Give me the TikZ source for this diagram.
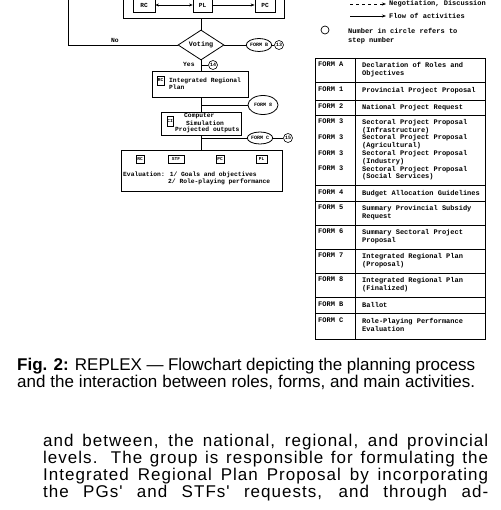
\documentclass[tikz,border=0pt]{standalone}
\usepackage{fontspec}
\newfontfamily\dm{Liberation Mono}
\newfontfamily\helv{Liberation Sans}[Ligatures=TeX]
\newfontfamily\helvwide{Liberation Sans}[LetterSpace=6]
\usetikzlibrary{shapes.geometric,arrows.meta}
\begin{document}
\begin{tikzpicture}[x=1pt,y=-1pt,
  every node/.style={inner sep=0pt},
  ln/.style={line width=0.8pt},
  flow/.style={ln,-{Stealth[length=4pt,width=3pt]}},
  box/.style={draw,ln,rectangle},
  tag/.style={draw,line width=0.6pt,font=\dm\bfseries\fontsize{4.5}{5}\selectfont,minimum height=8pt},
  bigtag/.style={draw,ln,font=\dm\bfseries\fontsize{6.2}{6.2}\selectfont,minimum height=14pt},
  dtxt/.style={font=\dm\bfseries\fontsize{6.3}{7}\selectfont,anchor=west,align=left},
  legtxt/.style={font=\dm\bfseries\fontsize{7}{9.5}\selectfont,anchor=west,align=left},
  oval/.style={draw,ln,ellipse,font=\dm\bfseries\fontsize{5}{5}\selectfont},
  num/.style={draw,line width=0.6pt,circle,minimum size=9pt,font=\dm\bfseries\fontsize{5}{5}\selectfont},
  ttxt/.style={font=\dm\bfseries\fontsize{7}{7.8}\selectfont,anchor=north west,align=left},
  rule/.style={line width=0.7pt},
  captxt/.style={font=\helv\fontsize{17}{17}\selectfont,anchor=base west},
  bodytxt/.style={font=\helvwide\fontsize{17}{17}\selectfont,anchor=base west}]
\clip (0,0) rectangle (500,510);
\fill[white] (0,0) rectangle (500,510);

% ---- flowchart ----
\coordinate (spine) at (201,0);
\node[box,minimum width=161pt,minimum height=30pt] (topbox) at (203.5,3) {};
\node[bigtag,minimum width=22pt] (rc) at (144,5) {RC};
\node[bigtag,minimum width=19pt] (pl) at (202.5,5) {PL};
\node[bigtag,minimum width=20pt] (pc) at (265,5) {PC};
\draw[ln,{Stealth[length=3.5pt,width=3pt]}-{Stealth[length=3.5pt,width=3pt]}] (rc) -- (pl);
\draw[flow] (pl) -- (pc);

\node[draw,ln,diamond,aspect=1.5,minimum width=46pt,minimum height=30pt,
      font=\dm\bfseries\fontsize{6.8}{7}\selectfont] (vote) at (201,45) {Voting};
\draw[ln] (spine |- topbox.south) -- (vote.north);
\coordinate (nocorner) at (68,45);
\coordinate (noend) at (68,-10);
\draw[ln] (vote.west) -- (nocorner) -- (noend);
\node[dtxt] (nolbl) at (111,40) {No};

\node[oval,minimum width=23pt,minimum height=13pt] (fb) at (259,45) {FORM B};
\node[num] (n13) at (279,45) {13};
\draw[ln] (vote.east) -- (fb.west);
\draw[ln] (fb) -- (n13);

\node[dtxt] (yes) at (183,64) {Yes};
\node[num] (n14) at (213,65) {14};
\node[box,minimum width=96pt,minimum height=26pt] (irp) at (200,84) {};
\draw[ln] (vote.south) -- (spine |- irp.north);
\draw[ln] (spine |- n14.west) -- (n14.west);
\node[tag,minimum width=7pt,minimum height=9pt] (irprc) at (160.5,80.5) {RC};
\node[dtxt] (irptxt) at (169,84) {Integrated Regional\\Plan};

\node[oval,minimum width=30pt,minimum height=19pt] (f8) at (263,105) {FORM 8};
\node[box,minimum width=80pt,minimum height=23pt] (cs) at (201,123.5) {};
\draw[ln] (spine |- irp.south) -- (spine |- cs.north);
\draw[ln] (spine |- f8.west) -- (f8.west);
\node[tag,minimum width=6pt,minimum height=10pt] (ci) at (170,121) {CI};
\node[dtxt] (cs1) at (184,116.5) {Computer};
\node[dtxt] (cs2) at (186,123) {Simulation};
\node[dtxt] (cs3) at (175,130) {Projected outputs};

\node[box,minimum width=161pt,minimum height=41pt] (ev) at (201.5,170.5) {};
\draw[ln] (spine |- cs.south) -- (spine |- ev.north);
\node[oval,minimum width=25pt,minimum height=12pt] (fc) at (260,138) {FORM C};
\node[num] (n15) at (288,138) {15};
\draw[ln] (spine |- fc.west) -- (fc.west);
\draw[ln] (fc) -- (n15);
\node[tag,minimum width=8pt] (evrc) at (140,159) {RC};
\node[tag,minimum width=16pt] (evstf) at (176,159) {STF};
\node[tag,minimum width=8pt] (evpc) at (220,159) {PC};
\node[tag,minimum width=11pt] (evpl) at (261.5,159) {PL};
\node[dtxt] (ev1) at (123,175) {Evaluation: 1/ Goals and objectives};
\node[dtxt] (ev2) at (168,182) {2/ Role-playing performance};

% ---- legend ----
\coordinate (d1) at (350,4);
\coordinate (d2) at (386,4);
\draw[flow,dashed] (d1) -- (d2);
\node[legtxt] (neg) at (389,4) {Negotiation, Discussion};
\coordinate (f1) at (350,16);
\coordinate (f2) at (386,16);
\draw[flow] (f1) -- (f2);
\node[legtxt] (flw) at (389,16) {Flow of activities};
\node[draw,circle,line width=0.7pt,minimum size=8pt] (legc) at (325,30) {};
\node[legtxt,anchor=north west] (numtxt) at (348,28) {Number in circle refers to\\step number};

% ---- table ----
\draw[rule] (315,58) rectangle (485,339);
\draw[rule] (355,58) -- (355,339);
\foreach \yy in {82,100,115,185,201,225,249,273,297,313}
  \draw[rule] (315,\yy) -- (485,\yy);
\node[ttxt] (ta) at (318,62) {FORM A};
\node[ttxt] (tat) at (362,62) {Declaration of Roles and\\Objectives};
\node[ttxt] (t1) at (318,87) {FORM 1};
\node[ttxt] (t1t) at (362,87) {Provincial Project Proposal};
\node[ttxt] (t2) at (318,104) {FORM 2};
\node[ttxt] (t2t) at (362,104) {National Project Request};
\node[ttxt] (t3) at (318,119) {FORM 3\\[7.8pt]FORM 3\\[7.8pt]FORM 3\\[7.8pt]FORM 3};
\node[ttxt] (t3t) at (362,119) {Sectoral Project Proposal\\(Infrastructure)\\Sectoral Project Proposal\\(Agricultural)\\Sectoral Project Proposal\\(Industry)\\Sectoral Project Proposal\\(Social Services)};
\node[ttxt] (t4) at (318,190) {FORM 4};
\node[ttxt] (t4t) at (362,190) {Budget Allocation Guidelines};
\node[ttxt] (t5) at (318,205) {FORM 5};
\node[ttxt] (t5t) at (362,205) {Summary Provincial Subsidy\\Request};
\node[ttxt] (t6) at (318,229) {FORM 6};
\node[ttxt] (t6t) at (362,229) {Summary Sectoral Project\\Proposal};
\node[ttxt] (t7) at (318,253) {FORM 7};
\node[ttxt] (t7t) at (362,253) {Integrated Regional Plan\\(Proposal)};
\node[ttxt] (t8) at (318,277) {FORM 8};
\node[ttxt] (t8t) at (362,277) {Integrated Regional Plan\\(Finalized)};
\node[ttxt] (tb) at (318,302) {FORM B};
\node[ttxt] (tbt) at (362,302) {Ballot};
\node[ttxt] (tc) at (318,318) {FORM C};
\node[ttxt] (tct) at (362,318) {Role-Playing Performance\\Evaluation};

% ---- caption and body text ----
\node[captxt] (cap1) at (17,370) {\makebox[458pt][s]{\textbf{Fig. 2:} REPLEX \textemdash{} Flowchart depicting the planning process}};
\node[captxt] (cap2) at (17,387) {\makebox[458pt][s]{and the interaction between roles, forms, and main activities.}};
\node[bodytxt] (b1) at (43,446) {\makebox[445pt][s]{and between, the national, regional, and provincial}};
\node[bodytxt] (b2) at (43,463) {\makebox[445pt][s]{levels. The group is responsible for formulating the}};
\node[bodytxt] (b3) at (43,480) {\makebox[445pt][s]{Integrated Regional Plan Proposal by incorporating}};
\node[bodytxt] (b4) at (43,497) {\makebox[445pt][s]{the PGs' and STFs' requests, and through ad-}};
\end{tikzpicture}
\end{document}
